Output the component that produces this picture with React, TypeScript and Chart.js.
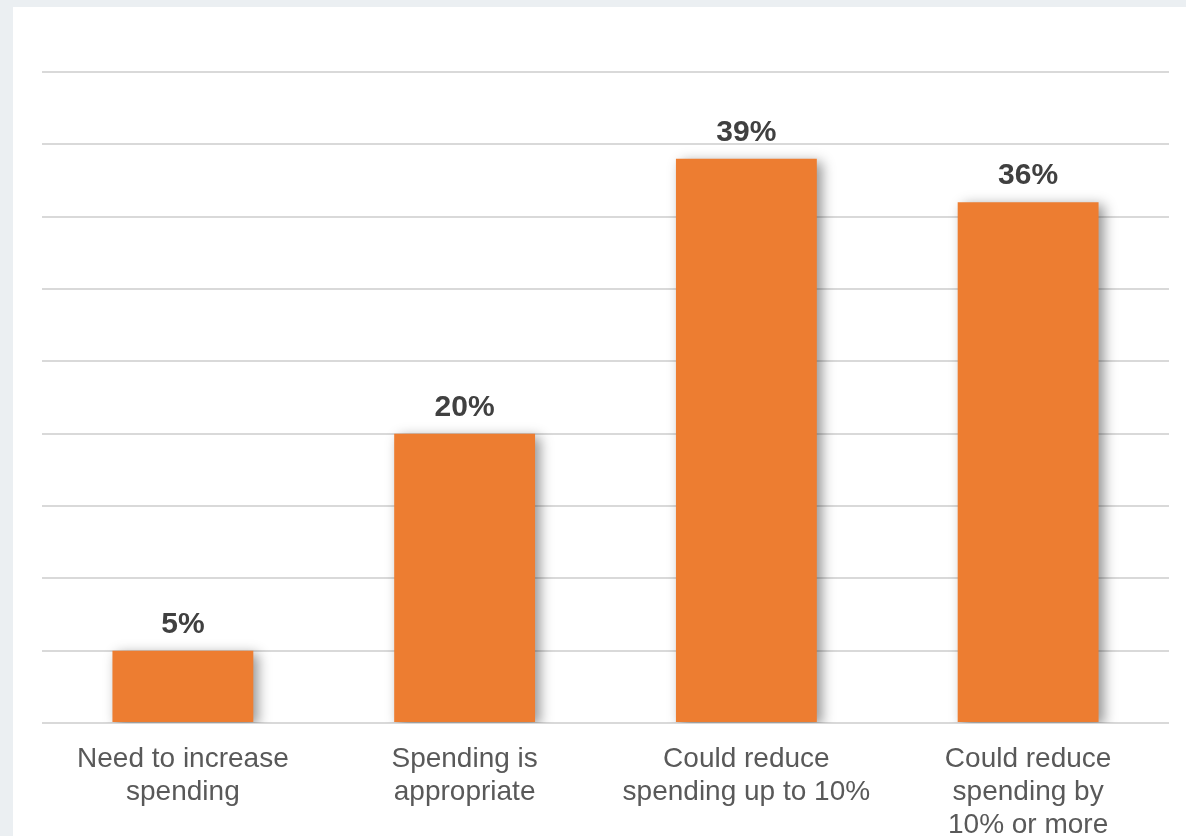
import React, { useEffect, useRef } from "react";
import { Chart, registerables } from "chart.js";

Chart.register(...registerables);

const categories: string[][] = [
  ["Need to increase", "spending"],
  ["Spending is", "appropriate"],
  ["Could reduce", "spending up to 10%"],
  ["Could reduce", "spending by", "10% or more"],
];
const values: number[] = [5, 20, 39, 36];
const yMax = 45;
const yStep = 5;

const FONT = "'Liberation Sans', Arial, sans-serif";

const shadowPlugin = {
  id: "barShadow",
  beforeDatasetDraw(chart: any) {
    const ctx = chart.ctx;
    ctx.save();
    ctx.shadowColor = "rgba(0,0,0,0.42)";
    ctx.shadowBlur = 12;
    ctx.shadowOffsetX = 5;
    ctx.shadowOffsetY = 3;
  },
  afterDatasetDraw(chart: any) {
    chart.ctx.restore();
  },
};

const valueLabelPlugin = {
  id: "valueLabels",
  afterDatasetsDraw(chart: any) {
    const ctx = chart.ctx;
    const meta = chart.getDatasetMeta(0);
    ctx.save();
    ctx.font = `bold 30px ${FONT}`;
    ctx.fillStyle = "#404040";
    ctx.textAlign = "center";
    ctx.textBaseline = "alphabetic";
    meta.data.forEach((bar: any, i: number) => {
      ctx.fillText(`${values[i]}%`, bar.x, bar.y - 18);
    });
    ctx.restore();
  },
};

export default function App() {
  const ref = useRef<HTMLCanvasElement>(null);
  useEffect(() => {
    if (!ref.current) return;
    const chart = new Chart(ref.current, {
      type: "bar",
      data: {
        labels: categories,
        datasets: [
          {
            data: values,
            backgroundColor: "#ED7D31",
            borderWidth: 0,
            barPercentage: 0.5,
            categoryPercentage: 1,
          },
        ],
      },
      options: {
        responsive: false,
        animation: false,
        layout: { padding: { left: 29, right: 17, top: 65, bottom: 0 } },
        plugins: { legend: { display: false }, tooltip: { enabled: false } },
        scales: {
          x: {
            grid: { display: false },
            border: { display: false },
            ticks: {
              color: "#595959",
              font: { family: FONT, size: 28, lineHeight: 1.17 },
              maxRotation: 0,
              autoSkip: false,
              padding: 12,
            },
            afterFit: (scale: any) => {
              scale.height = 113;
            },
          },
          y: {
            min: 0,
            max: yMax,
            ticks: { display: false, stepSize: yStep },
            border: { display: false },
            grid: { color: "#d9d9d9", lineWidth: 2, drawTicks: false },
          },
        },
      },
      plugins: [shadowPlugin, valueLabelPlugin],
    });
    return () => chart.destroy();
  }, []);

  return (
    <div
      style={{
        position: "absolute",
        left: 0,
        top: 0,
        width: 1186,
        height: 836,
        background: "#ebeff2",
        overflow: "hidden",
      }}
    >
      <div
        style={{
          position: "absolute",
          left: 13,
          top: 7,
          width: 1173,
          height: 829,
          background: "#ffffff",
        }}
      >
        <canvas ref={ref} width={1173} height={829} style={{ display: "block" }} />
      </div>
    </div>
  );
}
